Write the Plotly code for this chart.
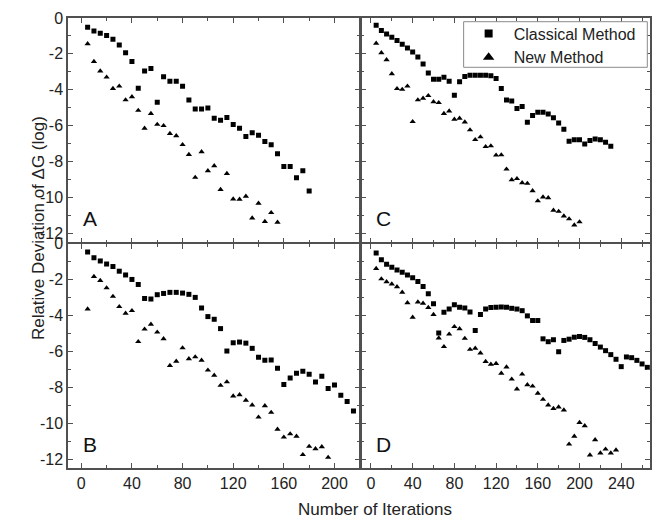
import plotly.graph_objects as go

# ---------------- data ----------------
# Panel A
a_sq_x = [5, 10, 15, 20, 25, 30, 35, 40, 45, 50, 55, 60, 65, 70, 75, 80, 85, 90,
          95, 100, 105, 110, 115, 120, 125, 130, 135, 140, 145, 150, 155, 160,
          165, 170, 175, 180]
a_sq_y = [-0.52, -0.72, -0.85, -0.98, -1.19, -1.50, -1.94, -2.43, -3.91, -2.96,
          -2.81, -4.69, -3.28, -3.52, -3.52, -3.81, -4.57, -5.07, -5.07, -5.02,
          -5.59, -5.70, -5.54, -5.94, -6.15, -6.61, -6.39, -6.54, -6.89, -7.06,
          -7.57, -8.28, -8.28, -8.91, -8.52, -9.65]
a_tr_x = [5, 10, 15, 20, 25, 30, 35, 40, 45, 50, 55, 60, 65, 70, 75, 80, 85, 90,
          95, 100, 105, 110, 115, 120, 125, 130, 135, 140, 145, 150, 155]
a_tr_y = [-1.44, -2.43, -2.96, -3.30, -3.93, -3.80, -4.57, -4.39, -5.15, -6.15,
          -5.33, -5.93, -6.00, -6.44, -6.57, -7.06, -7.61, -8.89, -7.46, -8.52,
          -8.24, -9.56, -8.67, -10.09, -10.11, -9.94, -11.15, -10.33, -11.35, -10.85,
          -11.39]

# Panel C
c_sq_x = [5, 10, 15, 20, 25, 30, 35, 40, 45, 50, 55, 60, 65, 70, 75, 80, 85, 90,
          95, 100, 105, 110, 115, 120, 125, 130, 135, 140, 145, 150, 155, 160,
          165, 170, 175, 180, 185, 190, 195, 200, 205, 210, 215, 220, 225, 230]
c_sq_y = [-0.41, -0.69, -0.89, -1.07, -1.26, -1.46, -1.67, -1.89, -2.17, -2.56,
          -3.07, -3.41, -3.41, -3.30, -3.52, -4.30, -3.56, -3.26, -3.19, -3.19,
          -3.19, -3.19, -3.22, -3.37, -3.93, -4.57, -4.63, -5.04, -4.93, -5.81,
          -5.43, -5.26, -5.26, -5.35, -5.56, -5.85, -6.20, -6.87, -6.78, -6.78,
          -7.02, -6.83, -6.74, -6.78, -6.93, -7.15]
c_tr_x = [5, 10, 15, 20, 25, 30, 35, 40, 45, 50, 55, 60, 65, 70, 75, 80, 85, 90,
          95, 100, 105, 110, 115, 120, 125, 130, 135, 140, 145, 150, 155, 160,
          165, 170, 175, 180, 185, 190, 195, 200]
c_tr_y = [-1.41, -1.94, -2.33, -3.11, -3.94, -3.98, -3.80, -5.78, -4.57, -4.48,
          -4.33, -4.67, -4.72, -5.33, -5.19, -5.65, -5.59, -5.80, -6.24, -6.78,
          -6.63, -7.17, -7.13, -7.65, -7.63, -8.43, -9.02, -8.96, -9.19, -9.22,
          -9.63, -10.20, -9.98, -10.02, -10.72, -10.78, -11.04, -11.20, -11.54, -11.37]

# Panel B
b_sq_x = [5, 10, 15, 20, 25, 30, 35, 40, 45, 50, 55, 60, 65, 70, 75, 80, 85, 90,
          95, 100, 105, 110, 115, 120, 125, 130, 135, 140, 145, 150, 155, 160,
          165, 170, 175, 180, 185, 190, 195, 200, 205, 210, 215]
b_sq_y = [-0.46, -0.78, -0.96, -1.13, -1.27, -1.53, -1.74, -1.99, -2.27, -3.05,
          -3.08, -2.84, -2.77, -2.71, -2.71, -2.75, -2.82, -2.99, -3.58, -4.06,
          -4.21, -4.73, -5.98, -5.52, -5.48, -5.54, -5.83, -6.33, -6.50, -6.48,
          -6.94, -7.85, -7.48, -7.22, -7.11, -7.27, -7.70, -7.38, -8.07, -7.88,
          -8.44, -8.79, -9.32]
b_tr_x = [5, 10, 15, 20, 25, 30, 35, 40, 45, 50, 55, 60, 65, 70, 75, 80, 85, 90,
          95, 100, 105, 110, 115, 120, 125, 130, 135, 140, 145, 150, 155, 160,
          165, 170, 175, 180, 185, 190, 195]
b_tr_y = [-3.64, -1.83, -2.05, -2.46, -2.94, -3.51, -3.88, -3.73, -5.46, -4.76,
          -4.49, -4.93, -5.30, -6.79, -6.55, -5.81, -6.41, -6.31, -6.50, -7.05,
          -7.33, -7.90, -7.70, -8.49, -8.42, -8.73, -8.99, -9.67, -9.03, -9.40,
          -10.34, -10.78, -10.60, -10.73, -11.76, -11.30, -11.43, -11.32, -11.91]

# Panel D
d_sq_x = [5, 10, 15, 20, 25, 30, 35, 40, 45, 50, 55, 60, 65, 70, 75, 80, 85, 90,
          95, 100, 105, 110, 115, 120, 125, 130, 135, 140, 145, 150, 155, 160,
          165, 170, 175, 180, 185, 190, 195, 200, 205, 210, 215, 220, 225, 230,
          235, 240, 245, 250, 255, 260, 265]
d_sq_y = [-0.52, -0.89, -1.14, -1.31, -1.46, -1.59, -1.74, -1.90, -2.10, -2.38,
          -2.79, -3.34, -4.98, -3.82, -3.64, -3.40, -3.54, -3.58, -3.80, -4.84,
          -3.95, -3.64, -3.56, -3.54, -3.53, -3.54, -3.60, -3.64, -3.73, -4.02,
          -4.28, -4.28, -5.30, -5.46, -5.35, -6.02, -5.39, -5.32, -5.21, -5.17,
          -5.22, -5.35, -5.56, -5.76, -5.96, -6.18, -6.44, -6.85, -6.31, -6.35,
          -6.50, -6.70, -6.89]
d_tr_x = [5, 10, 15, 20, 25, 30, 35, 40, 45, 50, 55, 60, 65, 70, 75, 80, 85, 90,
          95, 100, 105, 110, 115, 120, 125, 130, 135, 140, 145, 150, 155, 160,
          165, 170, 175, 180, 185, 190, 195, 200, 205, 210, 215, 220, 225, 230, 235]
d_tr_y = [-1.38, -1.96, -2.12, -2.25, -2.40, -2.71, -3.29, -4.10, -3.25, -3.32,
          -3.56, -3.95, -5.26, -5.74, -5.04, -4.62, -4.74, -5.28, -5.89, -5.83,
          -6.09, -6.57, -6.72, -6.68, -7.22, -6.87, -7.55, -8.10, -7.27, -7.86,
          -7.94, -8.34, -8.68, -8.99, -9.19, -9.10, -9.27, -11.17, -10.73, -9.97,
          -10.15, -11.78, -10.93, -11.67, -11.45, -11.67, -11.50]

panel_labels = ["A", "C", "B", "D"]
series_names = ["Classical Method", "New Method"]

y_tick_vals = [0, -2, -4, -6, -8, -10, -12]
y_tick_text = ["0", "-2", "-4", "-6", "-8", "-10", "-12"]
x_left_tick_vals = [0, 40, 80, 120, 160, 200]
x_right_tick_vals = [0, 40, 80, 120, 160, 200, 240]

x_title = "Number of Iterations"
y_title = "Relative Deviation of \u0394G (log)"

# ---------------- figure ----------------
FONT = "Liberation Sans, Arial, sans-serif"
INK = "#000000"
LINE = "#505050"
LW = 1.5
SQ = 5
TR = 5.5

panels = [
    ("x", "y", a_sq_x, a_sq_y, a_tr_x, a_tr_y),
    ("x2", "y2", c_sq_x, c_sq_y, c_tr_x, c_tr_y),
    ("x3", "y3", b_sq_x, b_sq_y, b_tr_x, b_tr_y),
    ("x4", "y4", d_sq_x, d_sq_y, d_tr_x, d_tr_y),
]

fig = go.Figure()
for xa, ya, sx, sy, tx, ty in panels:
    fig.add_trace(go.Scatter(x=sx, y=sy, xaxis=xa, yaxis=ya, mode="markers",
                             marker=dict(symbol="square", size=SQ, color=INK),
                             showlegend=False, hoverinfo="x+y"))
    fig.add_trace(go.Scatter(x=tx, y=ty, xaxis=xa, yaxis=ya, mode="markers",
                             marker=dict(symbol="triangle-up", size=TR, color=INK),
                             showlegend=False, hoverinfo="x+y"))

# legend entries (larger symbols, as in the reference legend)
fig.add_trace(go.Scatter(x=[None], y=[None], xaxis="x2", yaxis="y2", mode="markers",
                         marker=dict(symbol="square", size=8, color=INK),
                         name=series_names[0]))
fig.add_trace(go.Scatter(x=[None], y=[None], xaxis="x2", yaxis="y2", mode="markers",
                         marker=dict(symbol="triangle-up", size=10, color=INK),
                         name=series_names[1]))

L, R, T, B = 68, 2, 18, 51
W, H = 654, 519
pw = W - L - R
ph = H - T - B
# panels separated by one line width so the shared borders coincide
gx = LW / pw
gy = LW / ph
split_x = 293.3 / pw

common_axis = dict(showline=True, linecolor=LINE, linewidth=LW, mirror="ticks",
                   ticks="inside", ticklen=5, tickwidth=1, tickcolor=LINE,
                   showgrid=False, zeroline=False,
                   tickfont=dict(family=FONT, size=16, color="#222"))

xl_range = [-10.5, 219.8]
xr_range = [-9.5, 267.6]
y_range = [-12.5, 0]

def xaxis(domain, rng, vals, anchor, labels):
    d = dict(common_axis)
    d.update(domain=domain, range=rng, anchor=anchor, tickmode="array",
             tickvals=vals, ticktext=[str(v) for v in vals], showticklabels=labels,
             minor=dict(dtick=20, tick0=0, ticks="inside", ticklen=3, tickcolor=LINE,
                        showgrid=False))
    return d

def yaxis(domain, anchor, labels):
    d = dict(common_axis)
    d.update(domain=domain, range=y_range, anchor=anchor, tickmode="array",
             tickvals=y_tick_vals, ticktext=y_tick_text, showticklabels=labels,
             minor=dict(dtick=1, tick0=0, ticks="inside", ticklen=3, tickcolor=LINE,
                        showgrid=False))
    return d

left_dom = [0, split_x - gx / 2]
right_dom = [split_x + gx / 2, 1]
top_dom = [0.5 + gy / 2, 1]
bot_dom = [0, 0.5 - gy / 2]

def px_x(p):
    return (p - L) / pw

def px_y(p):
    return (H - B - p) / ph

fig.update_layout(
    width=W, height=H,
    margin=dict(l=L, r=R, t=T, b=B),
    paper_bgcolor="white", plot_bgcolor="white",
    font=dict(family=FONT, size=16, color="#222"),
    xaxis=xaxis(left_dom, xl_range, x_left_tick_vals, "y", False),
    yaxis=yaxis(top_dom, "x", True),
    xaxis2=xaxis(right_dom, xr_range, x_right_tick_vals, "y2", False),
    yaxis2=yaxis(top_dom, "x2", False),
    xaxis3=xaxis(left_dom, xl_range, x_left_tick_vals, "y3", True),
    yaxis3=yaxis(bot_dom, "x3", True),
    xaxis4=xaxis(right_dom, xr_range, x_right_tick_vals, "y4", True),
    yaxis4=yaxis(bot_dom, "x4", False),
    showlegend=True,
    legend=dict(x=px_x(465), y=px_y(16.5), xanchor="left", yanchor="top",
                borderwidth=0, bgcolor="rgba(255,255,255,0)",
                font=dict(family=FONT, size=16, color="#222"),
                itemwidth=40, tracegroupgap=0),
)

# legend frame (opaque white box with grey border)
fig.add_shape(type="rect", xref="paper", yref="paper",
              x0=px_x(465), x1=px_x(649.3), y0=px_y(67.3), y1=px_y(21.7),
              line=dict(color="#8a8a8a", width=1), fillcolor="white", layer="above")

letter_refs = [("x domain", "y domain"), ("x2 domain", "y2 domain"),
               ("x3 domain", "y3 domain"), ("x4 domain", "y4 domain")]
for lab, (xr, yr) in zip(panel_labels, letter_refs):
    fig.add_annotation(text=lab, xref=xr, yref=yr, x=0.046, y=0.105,
                       xanchor="left", yanchor="middle", showarrow=False,
                       font=dict(family=FONT, size=21, color="#111"))

fig.add_annotation(text=x_title, xref="paper", yref="paper",
                   x=px_x(376), y=px_y(510), xanchor="center", yanchor="middle",
                   showarrow=False, font=dict(family=FONT, size=17, color="#222"))
fig.add_annotation(text=y_title, xref="paper", yref="paper",
                   x=px_x(38), y=px_y(228), xanchor="center", yanchor="middle",
                   textangle=-90, showarrow=False, font=dict(family=FONT, size=17, color="#222"))

fig.write_html("out.html", config={"displayModeBar": False},
               post_script="document.body.style.margin='0';document.body.style.padding='0';")
